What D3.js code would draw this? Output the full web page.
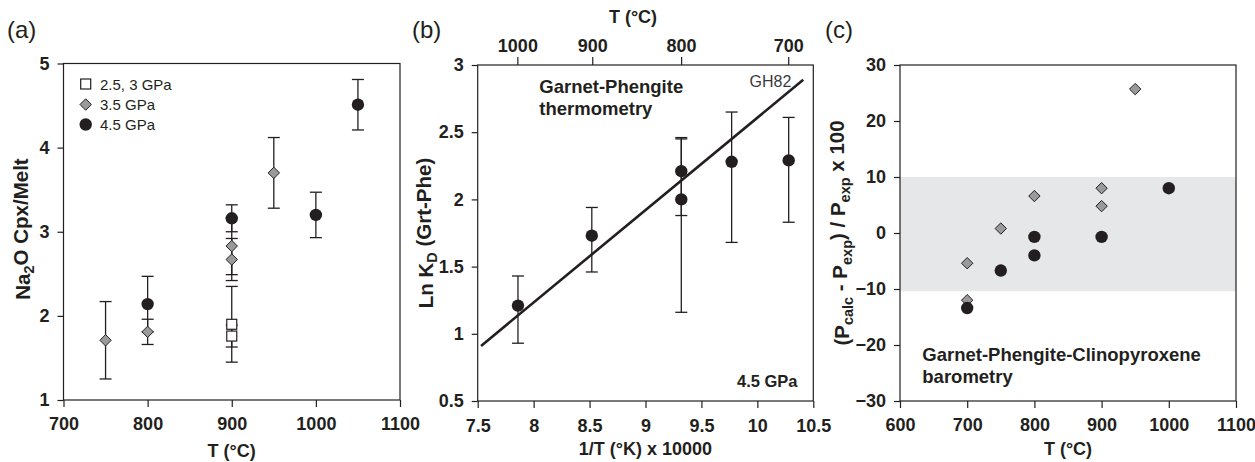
<!DOCTYPE html>
<html>
<head>
<meta charset="utf-8">
<script src="https://cdn.jsdelivr.net/npm/d3@7"></script>
<style>
  body { margin: 0; background: #fff; }
  svg text { font-family: "Liberation Sans", Arial, Helvetica, sans-serif; }
</style>
</head>
<body>
<svg id="fig" width="1255" height="462"></svg>
<script>
// ---------- (a) Na2O partitioning between clinopyroxene and melt ----------
const aTempLow = [900, 900];                     // 2.5, 3 GPa
const aNaLow = [1.90, 1.76];
const aErrLow = [0.45, 0.13];
const aTempMid = [750, 800, 900, 900, 950];      // 3.5 GPa
const aNaMid = [1.71, 1.81, 2.83, 2.67, 3.70];
const aErrMid = [0.46, 0.15, 0.34, 0.25, 0.42];
const aTempHigh = [800, 900, 1000, 1050];        // 4.5 GPa
const aNaHigh = [2.14, 3.16, 3.20, 4.51];
const aErrHigh = [0.33, 0.16, 0.27, 0.30];
const aLegend = ["2.5, 3 GPa", "3.5 GPa", "4.5 GPa"];
const aXTicks = [700, 800, 900, 1000, 1100];
const aYTicks = [1, 2, 3, 4, 5];

// ---------- (b) garnet-phengite thermometry, 4.5 GPa ----------
const bInvT = [7.86, 8.52, 9.32, 9.32, 9.77, 10.28];
const bLnKd = [1.21, 1.73, 2.21, 2.00, 2.28, 2.29];
const bUpper = [1.43, 1.94, 2.46, 2.45, 2.65, 2.61];
const bLower = [0.93, 1.46, 1.88, 1.16, 1.68, 1.83];
const gh82X = [7.53, 10.41];
const gh82Y = [0.91, 2.89];
const bXTicks = [7.5, 8, 8.5, 9, 9.5, 10, 10.5];
const bYTicks = [0.5, 1, 1.5, 2, 2.5, 3];
const bTopTicksC = [1000, 900, 800, 700];

// ---------- (c) garnet-phengite-clinopyroxene barometry ----------
const cTempMid = [700, 700, 750, 800, 900, 900, 950];   // 3.5 GPa
const cDevMid = [-5.4, -12.0, 0.8, 6.6, 8.0, 4.8, 25.7];
const cTempHigh = [700, 750, 800, 800, 900, 1000];      // 4.5 GPa
const cDevHigh = [-13.4, -6.7, -0.7, -4.0, -0.7, 8.0];
const cBand = [-10.4, 10];
const cXTicks = [600, 700, 800, 900, 1000, 1100];
const cYTicks = [-30, -20, -10, 0, 10, 20, 30];

// ---------- shared drawing helpers ----------
const INK = "#231f20";
const GREY = "#9a9a9a";
const svg = d3.select("#fig");

const diamondPath = "M0,-5.7L5.7,0L0,5.7L-5.7,0Z";

function styleAxis(g) {
  g.select(".domain").remove();
  g.selectAll(".tick line").attr("stroke", INK).attr("stroke-width", 1.2);
  g.selectAll(".tick text")
    .attr("fill", INK)
    .attr("font-size", 18)
    .attr("font-weight", "bold");
}

function drawFrame(g, x, y) {
  const [x0, x1] = x.range();
  const [y0, y1] = y.range();
  g.append("rect")
    .attr("x", x0).attr("y", y1)
    .attr("width", x1 - x0).attr("height", y0 - y1)
    .attr("fill", "none").attr("stroke", INK).attr("stroke-width", 1.2);
}

function bottomAxis(g, x, y, ticks, fmt) {
  const ax = g.append("g")
    .attr("transform", `translate(0,${y.range()[0]})`)
    .call(d3.axisBottom(x).tickValues(ticks).tickSize(7).tickSizeOuter(0)
      .tickPadding(10).tickFormat(fmt));
  styleAxis(ax);
}

function leftAxis(g, x, y, ticks, fmt) {
  const ax = g.append("g")
    .attr("transform", `translate(${x.range()[0]},0)`)
    .call(d3.axisLeft(y).tickValues(ticks).tickSize(6).tickSizeOuter(0)
      .tickPadding(8).tickFormat(fmt));
  styleAxis(ax);
}

function errorBars(g, xs, ys, lo, hi, x, y) {
  const idx = d3.range(xs.length);
  const eb = g.append("g").attr("stroke", INK).attr("stroke-width", 1.3);
  eb.selectAll(".stem").data(idx).join("line")
    .attr("x1", i => x(xs[i])).attr("x2", i => x(xs[i]))
    .attr("y1", i => y(lo[i])).attr("y2", i => y(hi[i]));
  eb.selectAll(".capHi").data(idx).join("line")
    .attr("x1", i => x(xs[i]) - 6).attr("x2", i => x(xs[i]) + 6)
    .attr("y1", i => y(hi[i])).attr("y2", i => y(hi[i]));
  eb.selectAll(".capLo").data(idx).join("line")
    .attr("x1", i => x(xs[i]) - 6).attr("x2", i => x(xs[i]) + 6)
    .attr("y1", i => y(lo[i])).attr("y2", i => y(lo[i]));
}

function circles(g, xs, ys, x, y) {
  g.append("g").selectAll("circle").data(d3.range(xs.length)).join("circle")
    .attr("cx", i => x(xs[i])).attr("cy", i => y(ys[i])).attr("r", 6.2)
    .attr("fill", INK);
}

function diamonds(g, xs, ys, x, y) {
  g.append("g").selectAll("path").data(d3.range(xs.length)).join("path")
    .attr("d", diamondPath)
    .attr("transform", i => `translate(${x(xs[i])},${y(ys[i])})`)
    .attr("fill", GREY).attr("stroke", INK).attr("stroke-width", 1);
}

function squares(g, xs, ys, x, y) {
  g.append("g").selectAll("rect").data(d3.range(xs.length)).join("rect")
    .attr("x", i => x(xs[i]) - 5).attr("y", i => y(ys[i]) - 5)
    .attr("width", 10).attr("height", 10)
    .attr("fill", "#fff").attr("stroke", INK).attr("stroke-width", 1.2);
}

function label(g, txt, x, y, opts = {}) {
  return g.append("text")
    .attr("x", x).attr("y", y)
    .attr("fill", opts.fill || INK)
    .attr("font-size", opts.size || 18)
    .attr("font-weight", opts.weight || "bold")
    .attr("text-anchor", opts.anchor || "start")
    .text(txt);
}

// Rotated axis title built from [text, isSubscript] pieces
function yTitle(g, parts, cx, cy) {
  const t = g.append("text")
    .attr("transform", `translate(${cx},${cy}) rotate(-90)`)
    .attr("text-anchor", "middle")
    .attr("fill", INK).attr("font-size", 20.5).attr("font-weight", "bold");
  let shifted = false;
  parts.forEach(([s, sub]) => {
    const ts = t.append("tspan").text(s);
    if (sub && !shifted) { ts.attr("dy", "0.3em").attr("font-size", 14.5); shifted = true; }
    else if (sub) { ts.attr("font-size", 14.5); }
    else if (shifted) { ts.attr("dy", "-0.3em"); shifted = false; }
  });
}

const intFmt = d => String(d);

// ================= panel (a) =================
{
  const g = svg.append("g");
  const x = d3.scaleLinear().domain([700, 1100]).range([63.5, 400]);
  const y = d3.scaleLinear().domain([1, 5]).range([400, 63.5]);

  drawFrame(g, x, y);
  bottomAxis(g, x, y, aXTicks, intFmt);
  leftAxis(g, x, y, aYTicks, intFmt);

  errorBars(g, aTempLow, aNaLow, aNaLow.map((v, i) => v - aErrLow[i]), aNaLow.map((v, i) => v + aErrLow[i]), x, y);
  errorBars(g, aTempMid, aNaMid, aNaMid.map((v, i) => v - aErrMid[i]), aNaMid.map((v, i) => v + aErrMid[i]), x, y);
  errorBars(g, aTempHigh, aNaHigh, aNaHigh.map((v, i) => v - aErrHigh[i]), aNaHigh.map((v, i) => v + aErrHigh[i]), x, y);
  squares(g, aTempLow, aNaLow, x, y);
  diamonds(g, aTempMid, aNaMid, x, y);
  circles(g, aTempHigh, aNaHigh, x, y);

  // legend
  const lx = 85.7, ly = [84, 104.5, 124.5];
  g.append("rect").attr("x", lx - 5).attr("y", ly[0] - 5).attr("width", 10).attr("height", 10)
    .attr("fill", "#fff").attr("stroke", INK).attr("stroke-width", 1.2);
  g.append("path").attr("d", diamondPath).attr("transform", `translate(${lx},${ly[1]})`)
    .attr("fill", GREY).attr("stroke", INK);
  g.append("circle").attr("cx", lx).attr("cy", ly[2]).attr("r", 6.2).attr("fill", INK);
  aLegend.forEach((s, i) => label(g, s, 100, ly[i] + 5.5, { size: 15, weight: "normal" }));

  label(g, "T (°C)", 231.7, 457, { anchor: "middle" });
  yTitle(g, [["Na"], ["2", true], ["O Cpx/Melt"]], 30, 229);
  label(g, "(a)", 7, 38, { size: 24, weight: "normal" });
}

// ================= panel (b) =================
{
  const g = svg.append("g");
  const x = d3.scaleLinear().domain([7.5, 10.5]).range([477.7, 813.3]);
  const y = d3.scaleLinear().domain([0.5, 3]).range([401, 65]);

  drawFrame(g, x, y);
  const bx = g.append("g")
    .attr("transform", `translate(0,${y.range()[0]})`)
    .call(d3.axisBottom(x).tickValues(bXTicks).tickSize(7).tickSizeOuter(0)
      .tickPadding(11).tickFormat(intFmt));
  styleAxis(bx);
  leftAxis(g, x, y, bYTicks, intFmt);

  // upper axis in degrees Celsius, placed on the 1/T scale
  const topPos = bTopTicksC.map(c => 10000 / (c + 273.15));
  const tx = g.append("g")
    .attr("transform", `translate(0,${y.range()[1]})`)
    .call(d3.axisTop(x).tickValues(topPos).tickSize(8).tickSizeOuter(0)
      .tickPadding(5).tickFormat((d, i) => bTopTicksC[i]));
  styleAxis(tx);

  // GH82 calibration line
  g.append("path")
    .datum(d3.range(gh82X.length))
    .attr("d", d3.line().x(i => x(gh82X[i])).y(i => y(gh82Y[i])))
    .attr("stroke", INK).attr("stroke-width", 2.6).attr("fill", "none");

  errorBars(g, bInvT, bLnKd, bLower, bUpper, x, y);
  circles(g, bInvT, bLnKd, x, y);

  label(g, "GH82", 749.5, 87, { size: 16, weight: "normal", fill: "#3a3a3a" });
  label(g, "Garnet-Phengite", 539.3, 92.7, { size: 18.5 });
  label(g, "thermometry", 539.3, 115, { size: 18.5 });
  label(g, "4.5 GPa", 797.5, 386.5, { size: 16.5, anchor: "end" });

  label(g, "1/T (°K) x 10000", 645.5, 455, { anchor: "middle" });
  label(g, "T (°C)", 633, 23, { anchor: "middle" });
  yTitle(g, [["Ln K"], ["D", true], [" (Grt-Phe)"]], 433, 233);
  label(g, "(b)", 412, 38, { size: 24, weight: "normal" });
}

// ================= panel (c) =================
{
  const g = svg.append("g");
  const x = d3.scaleLinear().domain([600, 1100]).range([900, 1236]);
  const y = d3.scaleLinear().domain([-30, 30]).range([401, 65]);

  // +/- 10 % agreement band
  g.append("rect")
    .attr("x", x.range()[0]).attr("width", x.range()[1] - x.range()[0])
    .attr("y", y(cBand[1])).attr("height", y(cBand[0]) - y(cBand[1]))
    .attr("fill", "#e6e7e8");

  drawFrame(g, x, y);
  bottomAxis(g, x, y, cXTicks, intFmt);
  leftAxis(g, x, y, cYTicks, d => d < 0 ? "\u2212" + Math.abs(d) : String(d));

  diamonds(g, cTempMid, cDevMid, x, y);
  circles(g, cTempHigh, cDevHigh, x, y);

  label(g, "Garnet-Phengite-Clinopyroxene", 922.3, 361, { size: 18.5 });
  label(g, "barometry", 922.3, 382.5, { size: 18.5 });

  label(g, "T (°C)", 1068, 455, { anchor: "middle" });
  yTitle(g, [["(P"], ["calc", true], [" - P"], ["exp", true], [") / P"], ["exp", true], [" x 100"]], 849, 233);
  label(g, "(c)", 825, 38, { size: 24, weight: "normal" });
}
</script>
</body>
</html>
